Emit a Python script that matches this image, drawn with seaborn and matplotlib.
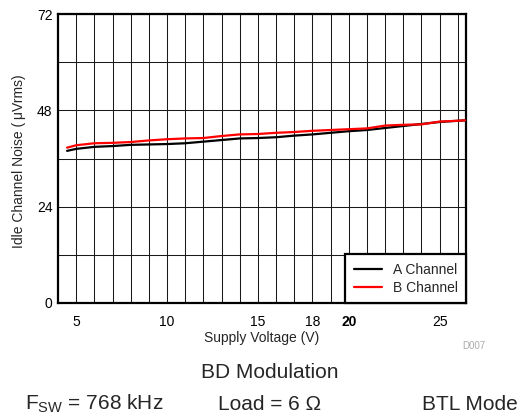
import numpy as np
import pandas as pd
import matplotlib
matplotlib.use('Agg')
import matplotlib.pyplot as plt
from matplotlib.ticker import MultipleLocator, FixedLocator
import seaborn as sns

# Data
supply_v = [4.5, 5, 6, 7, 8, 9, 10, 11, 12, 13, 14, 15, 16, 17, 18, 19, 20, 21, 22, 23, 24, 25, 26, 26.4]
noise_a = [37.9, 38.4, 38.9, 39.1, 39.4, 39.5, 39.6, 39.8, 40.2, 40.6, 41.0, 41.1, 41.3, 41.7,
           42.0, 42.4, 42.8, 43.1, 43.6, 44.1, 44.6, 45.1, 45.4, 45.5]
noise_b = [38.7, 39.3, 39.8, 39.9, 40.1, 40.5, 40.8, 41.0, 41.1, 41.6, 42.0, 42.1, 42.4, 42.6,
           42.9, 43.1, 43.3, 43.5, 44.2, 44.4, 44.5, 45.2, 45.4, 45.5]
x_ticks = [5, 10, 15, 18, 20, 25]
y_ticks = [0, 24, 48, 72]

sns.set_style('white')
plt.rcParams['font.family'] = ['Liberation Sans', 'DejaVu Sans']
plt.rcParams['mathtext.fontset'] = 'custom'
plt.rcParams['mathtext.rm'] = 'Liberation Sans'

df = pd.DataFrame({'v': supply_v * 2,
                   'noise': noise_a + noise_b,
                   'ch': ['A Channel'] * len(supply_v) + ['B Channel'] * len(supply_v)})

fig = plt.figure(figsize=(5.19, 4.16), dpi=100)
ax = fig.add_axes([58 / 519, 1 - 303 / 416, 408 / 519, 289 / 416])

sns.lineplot(data=df, x='v', y='noise', hue='ch', palette=['black', 'red'],
             linewidth=1.6, ax=ax, zorder=3)

ax.set_xlim(4, 26.45)
ax.set_ylim(0, 72)
ax.xaxis.set_major_locator(FixedLocator(x_ticks))
ax.xaxis.set_minor_locator(FixedLocator(list(range(5, 27))))
ax.yaxis.set_major_locator(FixedLocator(y_ticks))
ax.yaxis.set_minor_locator(MultipleLocator(12))
ax.grid(True, which='both', color='#1a1a1a', linewidth=0.75)
ax.tick_params(which='both', length=0, labelsize=10, colors='black')
ax.tick_params(axis='x', pad=9)
ax.tick_params(axis='y', pad=4)
for lbl in ax.get_xticklabels():
    if lbl.get_text() == '20':
        lbl.set_fontweight('bold')
for s in ax.spines.values():
    s.set_linewidth(1.6)
    s.set_color('black')

ax.set_xlabel('Supply Voltage (V)', fontsize=10)
ax.set_ylabel('Idle Channel Noise (\u2009\u03bcVrms)', fontsize=10)
ax.xaxis.set_label_coords(0.499, -0.121)
ax.xaxis.label.set_va('center')
ax.yaxis.set_label_coords(-0.096, 0.49)
ax.yaxis.label.set_va('center')

leg = ax.legend(loc='lower right', frameon=True, fancybox=False, fontsize=10,
                borderaxespad=0, handlelength=2.0, borderpad=0.6, labelspacing=0.3)
leg.get_frame().set_edgecolor('black')
leg.get_frame().set_linewidth(1.6)
leg.get_frame().set_alpha(1)
leg.set_title(None)

fig.text(474 / 519, 1 - 346 / 416, 'D007', fontsize=7, color='#aaaaaa', ha='center', va='center')
fig.text(270 / 519, 1 - 373 / 416, 'BD Modulation', fontsize=15, ha='center', va='center')
fig.text(25 / 519, 1 - 404 / 416, 'F$_{\\mathregular{SW}}$ = 768 kHz', fontsize=15, ha='left', va='center')
fig.text(218 / 519, 1 - 404 / 416, 'Load = 6 \u03a9', fontsize=15, ha='left', va='center')
fig.text(422 / 519, 1 - 404 / 416, 'BTL Mode', fontsize=15, ha='left', va='center')

fig.savefig('out.png', dpi=100)
